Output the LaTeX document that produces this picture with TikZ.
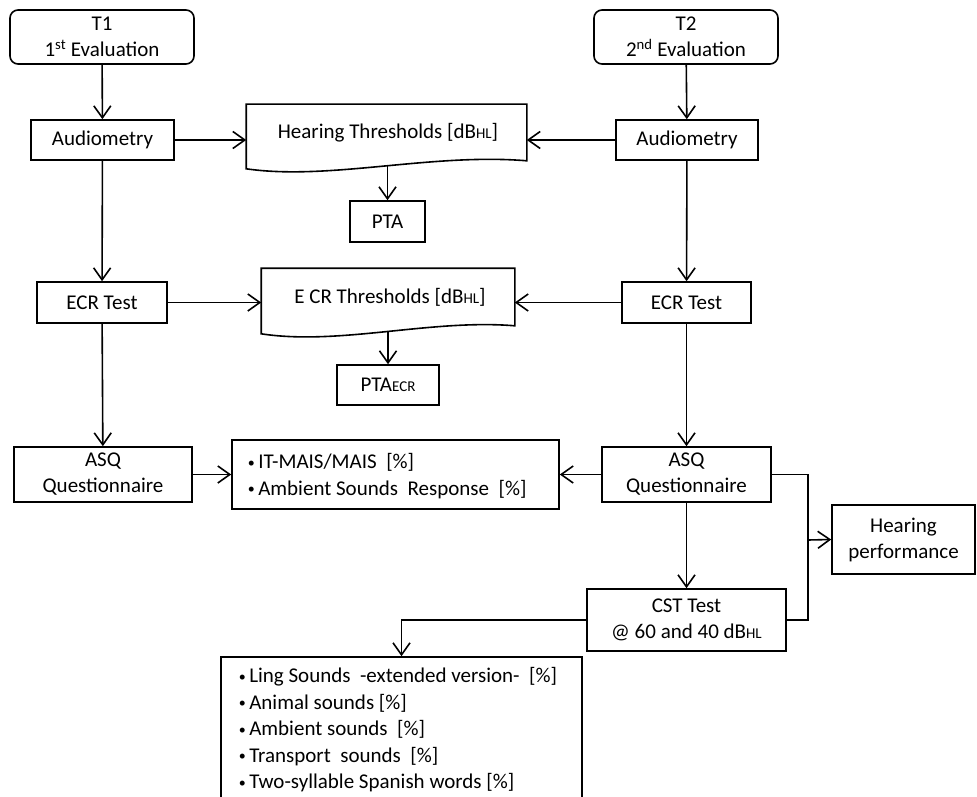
\documentclass[tikz,border=0pt]{standalone}
\usepackage{fontspec}
\setmainfont{Carlito}
\usetikzlibrary{arrows.meta}
\newcommand{\smc}[1]{{\fontsize{15}{15}\selectfont #1}}
\newcommand{\bul}{\raisebox{1.5pt}{\fontsize{14}{14}\selectfont •}\,}
\begin{document}
\begin{tikzpicture}[x=1pt,y=-1pt,
  line width=1.6pt,
  >={Straight Barb[length=12pt,width=17pt]},
  box/.style={draw, inner sep=0pt, align=center, font=\fontsize{21}{26}\selectfont},
  frame/.style={inner sep=0pt},
  lbl/.style={inner sep=0pt, align=left, font=\fontsize{21}{26.5}\selectfont}
]
\useasboundingbox (0,0) rectangle (977,797);
\fill[white] (0,0) rectangle (977,797);
\begin{scope}
\clip (0,0) rectangle (977,797);

% left column
\node[box, rounded corners=8pt, minimum width=184pt, minimum height=54pt] (t1) at (102,37) {T1\\1\textsuperscript{st} Evaluation};
\node[box, minimum width=143pt, minimum height=40pt] (aud1) at (102.5,140) {Audiometry};
\node[box, minimum width=130pt, minimum height=41pt] (ecr1) at (102,302.5) {ECR Test};
\node[box, minimum width=178pt, minimum height=55pt] (asq1) at (103,474.5) {ASQ\\Questionnaire};

% right column
\node[box, rounded corners=8pt, minimum width=184pt, minimum height=54pt] (t2) at (686,37) {T2\\2\textsuperscript{nd} Evaluation};
\node[box, minimum width=142pt, minimum height=40pt] (aud2) at (687,140) {Audiometry};
\node[box, minimum width=129pt, minimum height=41pt] (ecr2) at (686.5,302.5) {ECR Test};
\node[box, minimum width=169pt, minimum height=55pt] (asq2) at (686.5,474.5) {ASQ\\Questionnaire};
\node[box, minimum width=199pt, minimum height=62pt] (cst) at (686.5,620) {CST Test\\@ 60 and 40 dB\smc{HL}};
\node[box, minimum width=143pt, minimum height=69pt] (hp) at (903.5,539.5) {Hearing\\performance};

% middle: hearing thresholds document shape
\node[frame, minimum width=279pt, minimum height=63pt] (ht) at (386.5,136.5) {};
\draw (ht.north west) -- (ht.south west)
  .. controls +(83,12) and +(-96,-8) .. coordinate[pos=0.5] (htb) ([yshift=8pt]ht.south east)
  -- (ht.north east) -- cycle;
\node[lbl] (htt) at (388,133) {Hearing Thresholds [dB\smc{HL}]};
\node[box, minimum width=75pt, minimum height=41pt] (pta) at (387.5,221.5) {PTA};

% middle: ECR thresholds document shape
\node[frame, minimum width=252pt, minimum height=64pt] (et) at (388,301) {};
\draw (et.north west) -- (et.south west)
  .. controls +(78,12) and +(-84,-7) .. coordinate[pos=0.5] (etb) ([yshift=8pt]et.south east)
  -- (et.north east) -- cycle;
\node[lbl] (ett) at (390,297) {E CR Thresholds [dB\smc{HL}]};
\node[box, minimum width=102pt, minimum height=40pt] (ptaecr) at (388,385) {PTA\smc{ECR}};

% IT-MAIS box
\node[box, minimum width=327pt, minimum height=69pt] (itm) at (395.5,474.5) {};
\node[lbl, anchor=west] (itmt) at (247,476) {\bul IT-MAIS/MAIS\ \ [\%]\\\bul Ambient Sounds\ \ Response\ \ [\%]};

% bottom list
\node[frame, draw, minimum width=361pt, minimum height=170pt] (list) at (401.5,742) {};
\node[lbl, anchor=north west] (listt) at (238,667) {\bul Ling Sounds\ \ -extended version-\ \ [\%]\\
\bul Animal sounds [\%]\\
\bul Ambient sounds\ \ [\%]\\
\bul Transport\ \ sounds\ \ [\%]\\
\bul Two-syllable Spanish words [\%]};

% connectors
\draw[->] (t1) -- (aud1);
\draw[->] (aud1) -- (ecr1);
\draw[->] (ecr1) -- (asq1);
\draw[->] (t2) -- (aud2);
\draw[->] (aud2) -- (ecr2);
\draw[->] (ecr2) -- (asq2);
\draw[->] (asq2) -- (cst);

\draw[->] (aud1.east) -- (aud1.east -| ht.west);
\draw[->] (aud2.west) -- (aud2.west -| ht.east);
\draw[->] (pta.north |- htb) -- (pta.north);

\draw[->] (ecr1.east) -- (ecr1.east -| et.west);
\draw[->] (ecr2.west) -- (ecr2.west -| et.east);
\draw[->] (ptaecr.north |- etb) -- (ptaecr.north);

\draw[->] (asq1.east) -- (asq1.east -| itm.west);
\draw[->] (asq2.west) -- (asq2.west -| itm.east);

\coordinate (jr) at (808,540);
\draw (asq2.east) -- (asq2.east -| jr) |- (cst.east);
\draw[->] (jr) -- (hp.west);

\draw[->] (cst.west) -| (list.north);
\end{scope}
\end{tikzpicture}
\end{document}
